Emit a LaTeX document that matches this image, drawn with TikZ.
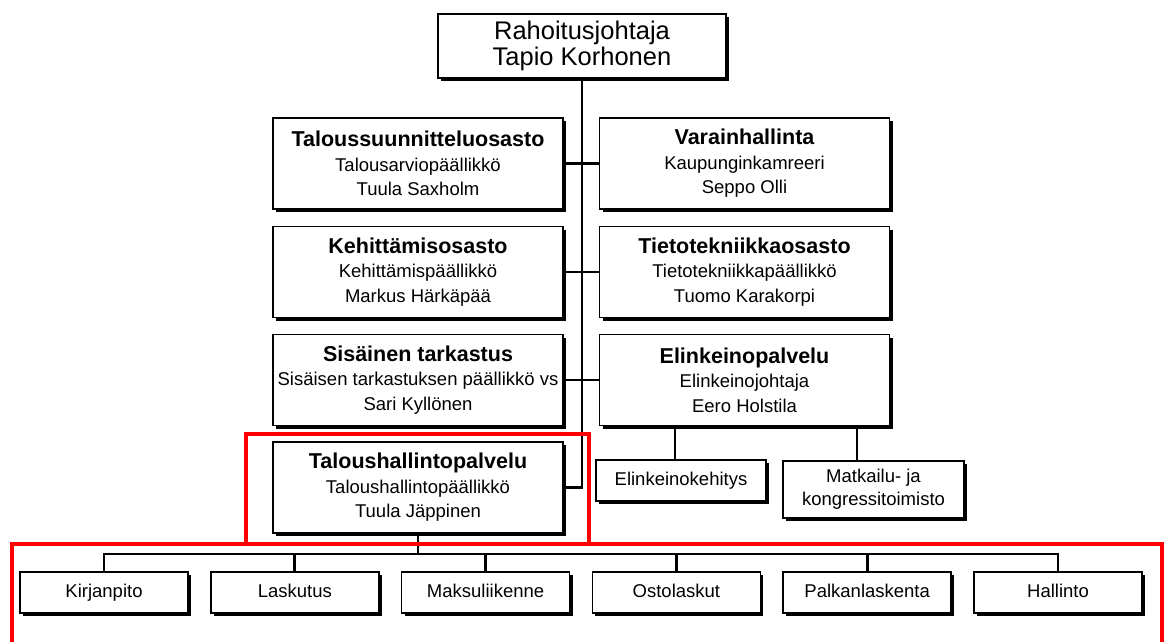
\documentclass[tikz,border=0pt]{standalone}
\usepackage{fontspec}
\setmainfont{Liberation Sans}
\usetikzlibrary{shadows,positioning}

\begin{document}
\begin{tikzpicture}[x=1pt,y=-1pt,
            unit/.style={
                draw,
                line width=1.6pt,
                fill=white,
                align=center,
                inner sep=0pt,
                drop shadow={shadow xshift=3pt, shadow yshift=-3pt, fill=black, opacity=1},
                font=\fontsize{18.5}{24.5}\selectfont
            },
            dept/.style={
                unit,
                minimum width=290pt,
                minimum height=91pt
            },
            sub/.style={
                unit,
                minimum width=170pt,
                minimum height=41pt
            },
            oneline/.style={
                text height=13.5pt,
                text depth=4pt
            },
            link/.style={
                line width=2.8pt
            },
            redframe/.style={
                draw=red,
                line width=4pt
            }
        ]

            % Title line of a department box
            \def\hd#1{{\fontsize{21.5}{24.5}\selectfont\bfseries #1}}

            % Layout parameters
            \def\xLeft{418}
            \def\xRight{744.5}
            \def\yBus{554}

            \useasboundingbox (0,0) rectangle (1165,641);
            \fill[white] (0,0) rectangle (1165,641);

            % Head
            \node[unit, minimum width=288pt, minimum height=64pt,
                font=\fontsize{25.5}{26.5}\selectfont] (rj) at (582,46)
                {Rahoitusjohtaja\\Tapio Korhonen};

            % Left column
            \node[dept] (tss) at (\xLeft,163.5) {\hd{Taloussuunnitteluosasto}\\Talousarviopäällikkö\\Tuula Saxholm};
            \node[dept] (ko)  at (\xLeft,272)   {\hd{Kehittämisosasto}\\Kehittämispäällikkö\\Markus Härkäpää};
            \node[dept] (st)  at (\xLeft,380)   {\hd{Sisäinen tarkastus}\\Sisäisen tarkastuksen päällikkö vs\\Sari Kyllönen};
            \node[dept] (thp) at (\xLeft,487.5) {\hd{Taloushallintopalvelu}\\Taloushallintopäällikkö\\Tuula Jäppinen};

            % Right column
            \node[dept] (vh) at (\xRight,163.5) {\hd{Varainhallinta}\\Kaupunginkamreeri\\Seppo Olli};
            \node[dept] (tt) at (\xRight,272)   {\hd{Tietotekniikkaosasto}\\Tietotekniikkapäällikkö\\Tuomo Karakorpi};
            \node[dept] (ep) at (\xRight,380)   {\hd{Elinkeinopalvelu}\\Elinkeinojohtaja\\Eero Holstila};

            % Units under Elinkeinopalvelu
            \node[sub, oneline] (ek) at (681,480.5) {Elinkeinokehitys};
            \node[sub, minimum width=181pt, minimum height=57pt, font=\fontsize{18.5}{23}\selectfont]
                (mk) at (873.5,489.5) {Matkailu- ja\\kongressitoimisto};

            % Units under Taloushallintopalvelu
            \foreach[count=\i from 1] \name in {Kirjanpito,Laskutus,Maksuliikenne,Ostolaskut,Palkanlaskenta,Hallinto} {
                \node[sub, oneline, minimum width=168pt] (u\i) at ({104+(\i-1)*190.8},592.5) {\name};
            }

            % Trunk and branches
            \draw[link] (rj.south) -- (rj.south |- thp.east) -- (thp.east);
            \foreach \l/\r in {tss/vh,ko/tt,st/ep} {
                \draw[link] (\l.east) -- (\r.west);
            }
            \draw[link] ([xshift=-6pt]ek.north) -- ++(0,-34.5);
            \draw[link] ([xshift=-16.5pt]mk.north) -- ++(0,-35.5);

            % Bus to the units
            \draw[link] (thp.south) -- (thp.south |- 0,\yBus);
            \draw[link] (u1.north) -- (u1.north |- 0,\yBus) -| (u6.north);
            \foreach \i in {2,...,5} {
                \draw[link] (u\i.north) -- (u\i.north |- 0,\yBus);
            }

            % Red highlight frames
            \draw[redframe] (246,434) rectangle (589,544);
            \draw[redframe] (12,645) -- (12,544) -- (1162,544) -- (1162,645);

        \end{tikzpicture}
\end{document}
